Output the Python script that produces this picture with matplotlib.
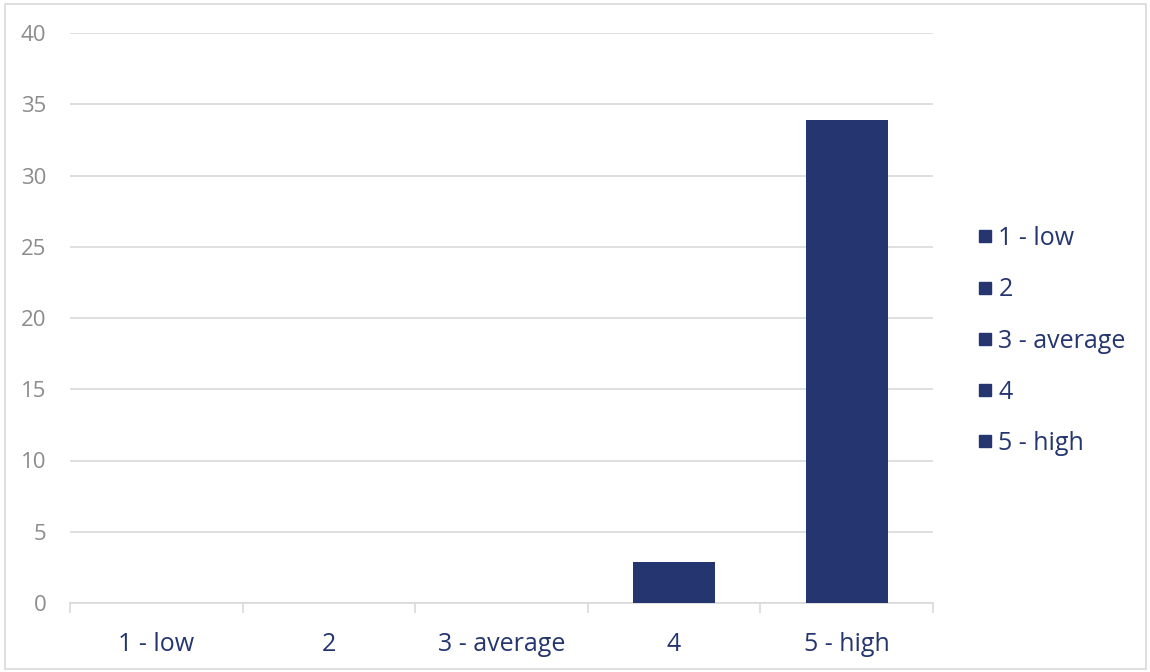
import matplotlib.pyplot as plt
from matplotlib.lines import Line2D
from matplotlib.patches import Rectangle

plt.rcParams['font.family'] = ['Open Sans', 'DejaVu Sans']

categories = ["1 - low", "2", "3 - average", "4", "5 - high"]
values = [0, 0, 0, 2.85, 33.9]
y_ticks = [0, 5, 10, 15, 20, 25, 30, 35, 40]

navy = "#253570"
grid_gray = "#d9d9d9"
label_gray = "#8c8c8c"

fig = plt.figure(figsize=(11.5, 6.72), dpi=100)
ax = fig.add_axes([70 / 1150, 1 - 603 / 672, (933 - 70) / 1150, (603 - 33) / 672])

x = list(range(len(categories)))
ax.bar(x, values, width=0.475, color=navy, zorder=3)

ax.set_xlim(-0.5, len(categories) - 0.5)
ax.set_ylim(0, 40)
ax.set_yticks(y_ticks)
ax.yaxis.grid(True, color=grid_gray, linewidth=1.2, zorder=0)
ax.tick_params(axis='y', length=0, pad=17, labelsize=16, labelcolor=label_gray)

# category labels at centres, tick marks on the boundaries
ax.set_xticks(x)
ax.set_xticklabels(categories, fontsize=18, color=navy)
ax.tick_params(axis='x', which='major', length=0, pad=21)
ax.set_xticks([i - 0.5 for i in range(len(categories) + 1)], minor=True)
ax.tick_params(axis='x', which='minor', length=7, width=1.2, color=grid_gray)

for side in ["top", "right", "left"]:
    ax.spines[side].set_visible(False)
ax.spines["bottom"].set_color(grid_gray)
ax.spines["bottom"].set_linewidth(1.2)

handles = [Line2D([], [], marker='s', linestyle='none', markersize=8.5, color=navy)
           for _ in categories]
leg = fig.legend(handles, categories, loc='center left',
                 bbox_to_anchor=(966 / 1150, 1 - 341 / 672), frameon=False,
                 fontsize=18, labelspacing=1.05, handlelength=0.5,
                 handletextpad=0.3, borderpad=0)
for t in leg.get_texts():
    t.set_color(navy)

fig.patches.append(Rectangle((5 / 1150, 3 / 672), 1141 / 1150, 665 / 672,
                             transform=fig.transFigure, fill=False,
                             edgecolor=grid_gray, linewidth=1.2))

fig.savefig("out.png", dpi=100)
